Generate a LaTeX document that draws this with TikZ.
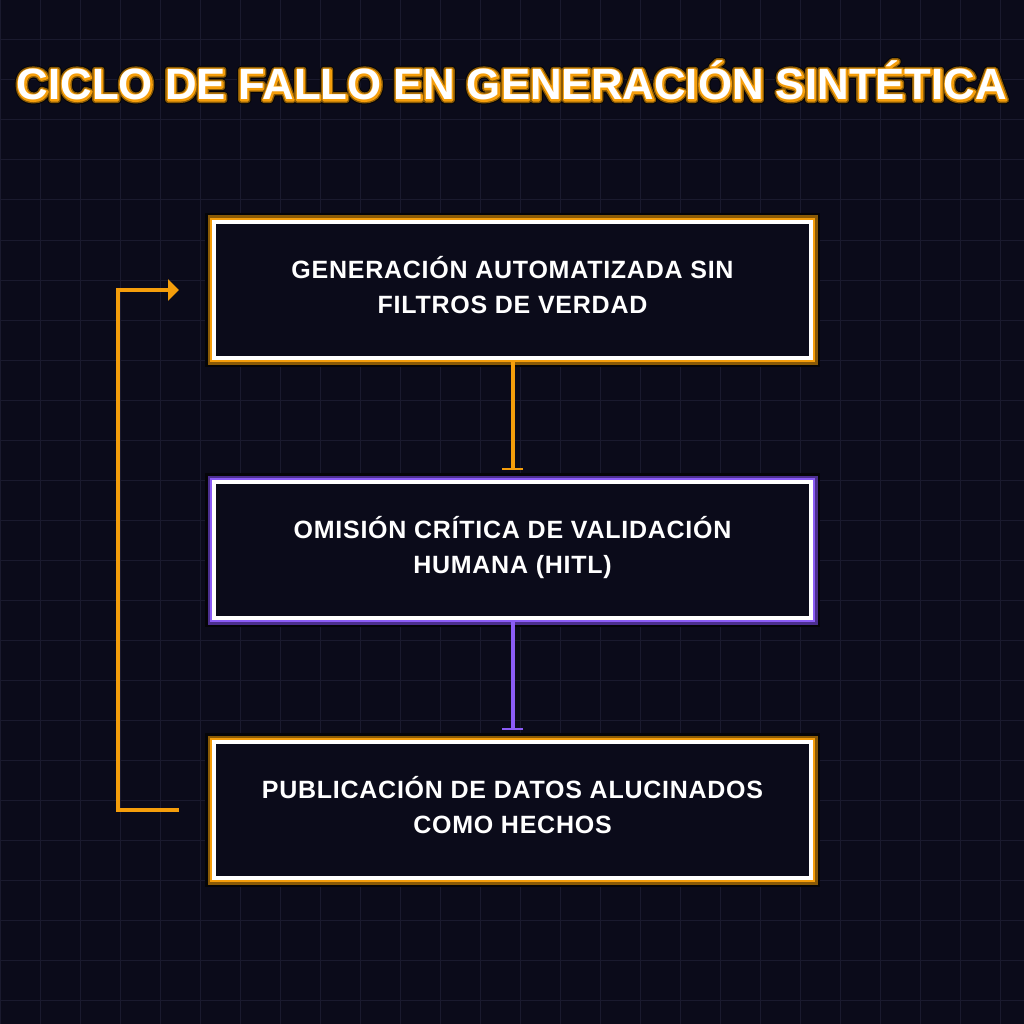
\documentclass[tikz,border=0pt]{standalone}
\usepackage{fontspec}
\setmainfont{Liberation Sans}
\newfontfamily\boxfont[LetterSpace=3]{Liberation Sans}
\usetikzlibrary{arrows.meta}
\definecolor{bgc}{HTML}{0B0B1A}
\definecolor{gridc}{HTML}{1A1A2E}
\definecolor{amber}{HTML}{F59E0B}
\definecolor{amberdk}{HTML}{8A5A06}
\definecolor{violet}{HTML}{8B5CF6}
\definecolor{violetdk}{HTML}{4C2F8F}
\definecolor{shadowc}{HTML}{050508}
\tikzset{
  stepbox/.style={draw=white, line width=4pt, fill=bgc, minimum width=597pt, minimum height=136pt,
    inner sep=0pt, align=center, text=white, font=\boxfont\bfseries\fontsize{25}{35}\selectfont,
    execute at end node={\rule[-10pt]{0pt}{0pt}}},
  orangeglow/.style={preaction={draw=shadowc, line width=18pt},
    preaction={draw=amberdk, line width=13pt},
    preaction={draw=amber, line width=8pt}},
  violetglow/.style={preaction={draw=shadowc, line width=18pt},
    preaction={draw=violetdk, line width=13pt},
    preaction={draw=violet, line width=8pt}},
  conn/.style={line width=4pt},
  ttl/.style={font=\bfseries\fontsize{43.8}{50}\selectfont, inner sep=0pt, anchor=base}
}
\newcommand{\ttltext}{CICLO DE FALLO EN GENERACIÓN SINTÉTICA}
\newcommand{\strokedtext}[3]{\special{pdf:literal direct 2 Tr #1 w 1 j}\textcolor{#2}{#3}\special{pdf:literal direct 0 Tr 1 w}}
\begin{document}
\begin{tikzpicture}[x=1pt,y=-1pt]
\fill[bgc] (0,0) rectangle (1024,1024);
\useasboundingbox (0,0) rectangle (1024,1024);
\foreach \g in {0,40,...,1000} {
  \draw[gridc, line width=1pt] (\g,0) -- (\g,1024);
  \draw[gridc, line width=1pt] (0,\g) -- (1024,\g);
}
% title with glow outline
\node[ttl] (title) at (512,100) {\rlap{\strokedtext{8}{shadowc}{\ttltext}}\rlap{\strokedtext{6}{amberdk}{\ttltext}}\rlap{\strokedtext{3.2}{amber}{\ttltext}}\textcolor{white}{\ttltext}};

\node[stepbox, orangeglow] (b1) at (512.5,290) {GENERACIÓN AUTOMATIZADA SIN\\FILTROS DE VERDAD};
\node[stepbox, violetglow] (b2) at (512.5,550) {OMISIÓN CRÍTICA DE VALIDACIÓN\\HUMANA (HITL)};
\node[stepbox, orangeglow] (b3) at (512.5,810) {PUBLICACIÓN DE DATOS ALUCINADOS\\COMO HECHOS};

\draw[conn, amber, shorten >=10pt, -{Bar[width=21pt,line width=2pt]}] (b1.south) -- (b2.north);
\draw[conn, violet, shorten >=10pt, -{Bar[width=21pt,line width=2pt]}] (b2.south) -- (b3.north);
\draw[conn, amber, -{Triangle[length=11pt,width=21pt]}] ([xshift=-33pt]b3.west) -- ++(-61,0) |- ([xshift=-33pt]b1.west);
\end{tikzpicture}
\end{document}
